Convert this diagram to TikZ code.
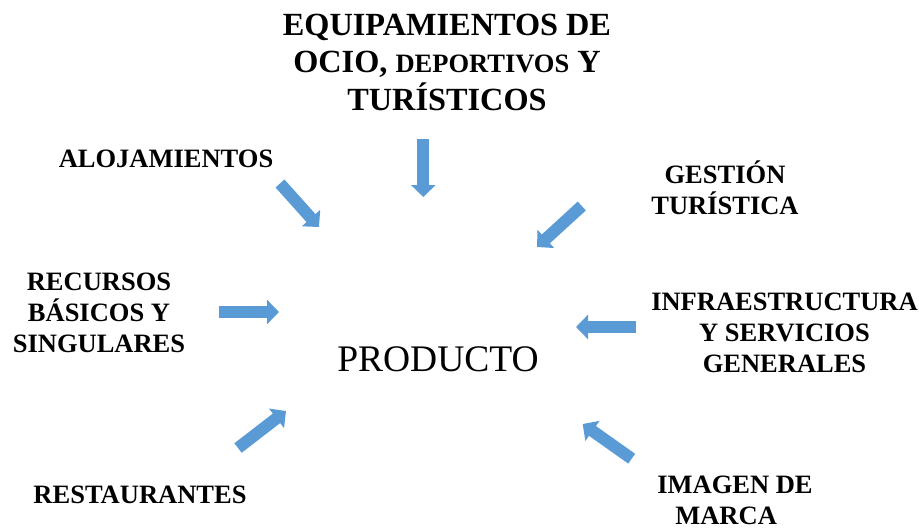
\documentclass[tikz,border=0pt]{standalone}
\usepackage{fontspec}
\setmainfont{Liberation Serif}
\usetikzlibrary{arrows.meta}
\definecolor{arrowblue}{HTML}{5B9BD5}
\tikzset{
  x=1pt,y=-1pt,
  lbl/.style={font=\fontsize{26.5}{31}\selectfont\bfseries,align=center,inner sep=0pt,text=black},
  bigl/.style={font=\fontsize{32.3}{37.5}\selectfont\bfseries,align=center,inner sep=0pt,text=black},
  prod/.style={font=\fontsize{37.5}{40}\selectfont,inner sep=0pt,text=black},
  barrow/.style={-{Triangle[length=12pt,width=24pt,fill=arrowblue]},line width=12pt,draw=arrowblue}
}
\begin{document}
\begin{tikzpicture}
\useasboundingbox (0,0) rectangle (919,528);
\node[bigl] (equip) at (447,62) {EQUIPAMIENTOS DE\\OCIO, {\fontsize{26.5}{37.5}\selectfont DEPORTIVOS} Y\\TURÍSTICOS};
\node[lbl] (aloj) at (166,159) {ALOJAMIENTOS};
\node[lbl] (gest) at (725,188) {GESTIÓN\\TURÍSTICA};
\node[lbl] (recur) at (99,313) {RECURSOS\\BÁSICOS Y\\SINGULARES};
\node[lbl] (infra) at (784.5,333) {INFRAESTRUCTURA\\Y SERVICIOS\\GENERALES};
\node[lbl] (rest) at (140,495) {RESTAURANTES};
\node[lbl,align=left] (imagen) at (735,500.5) {IMAGEN DE\\\hspace*{18pt}MARCA};
\node[prod] (prod) at (438,359) {PRODUCTO};
\coordinate (a1s) at (423.3,139); \coordinate (a1e) at (423.3,197);
\coordinate (a2s) at (280,183.5); \coordinate (a2e) at (319,227);
\coordinate (a3s) at (581.8,206); \coordinate (a3e) at (537,247);
\coordinate (a4s) at (219,312); \coordinate (a4e) at (279,312);
\coordinate (a5s) at (636,327); \coordinate (a5e) at (576,327);
\coordinate (a6s) at (238,448); \coordinate (a6e) at (286,411);
\coordinate (a7s) at (631.7,458.7); \coordinate (a7e) at (582.7,424);
\foreach \n in {1,...,7} \draw[barrow] (a\n s) -- (a\n e);
\end{tikzpicture}
\end{document}
